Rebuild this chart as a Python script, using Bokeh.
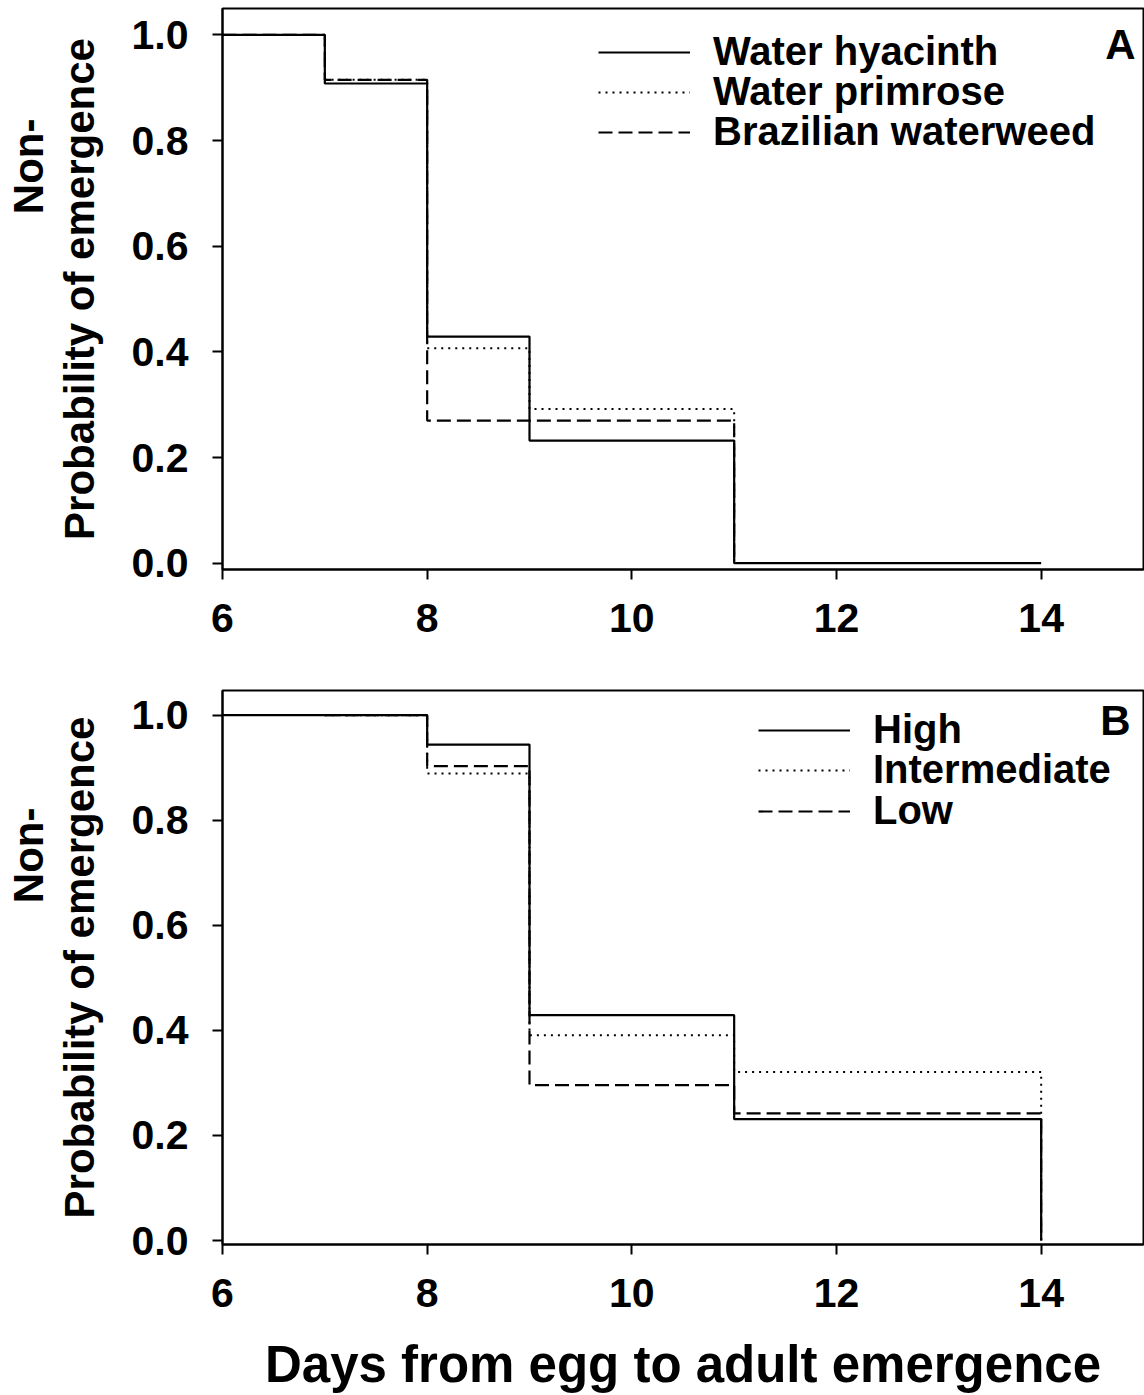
from bokeh.plotting import figure
from bokeh.layouts import column
from bokeh.models import Range1d, Legend, LegendItem, Label, Title
from bokeh.embed import file_html
from bokeh.resources import INLINE

# ---- Panel A: host plant ----
days_hyacinth = [6, 7, 8, 9, 11, 14]
surv_hyacinth = [1.0, 0.908, 0.429, 0.232, 0.0, 0.0]
days_primrose = [6, 7, 8, 9, 11]
surv_primrose = [1.0, 0.915, 0.407, 0.292, 0.0]
days_waterweed = [6, 7, 8, 11]
surv_waterweed = [1.0, 0.915, 0.270, 0.0]

# ---- Panel B: nutrient level ----
days_high = [6, 8, 9, 11, 14]
surv_high = [1.0, 0.944, 0.429, 0.231, 0.0]
days_inter = [7, 8, 9, 11, 14]
surv_inter = [1.0, 0.889, 0.391, 0.321, 0.0]
days_low = [7, 8, 9, 11, 14]
surv_low = [1.0, 0.903, 0.296, 0.242, 0.0]

x_ticks = [6, 8, 10, 12, 14]
y_ticks = [0.0, 0.2, 0.4, 0.6, 0.8, 1.0]

FONT = "Liberation Sans"
X0, X1 = 6, 15
LEFT = 222
FRAME_W = 921
ROW_HALF = 22  # half the height of one legend row

STYLES = [
    dict(line_dash="solid", line_width=2.2),
    dict(line_dash="2 5", line_width=2.0),
    dict(line_dash="14 6", line_width=2.2),
]


def make_panel(height, top, frame_h, yr, series, names, letter, legend_x,
               legend_rows, non_offset, show_xlabel):
    Y0, Y1 = yr
    p = figure(width=LEFT + FRAME_W + 1, height=height,
               x_range=Range1d(X0, X1), y_range=Range1d(Y0, Y1),
               output_backend="svg", toolbar_location=None,
               min_border_left=LEFT, min_border_right=1,
               min_border_top=top, min_border_bottom=height - top - frame_h)
    p.xgrid.visible = False
    p.ygrid.visible = False
    p.background_fill_color = "white"
    p.border_fill_color = "white"
    p.outline_line_color = "black"
    p.outline_line_width = 2

    for ax in (p.xaxis, p.yaxis):
        ax.axis_line_width = 2
        ax.axis_line_color = "black"
        ax.major_tick_line_width = 2
        ax.major_tick_line_color = "black"
        ax.major_tick_out = 10
        ax.major_tick_in = 0
        ax.minor_tick_line_color = None
        ax.major_label_text_font = FONT
        ax.major_label_text_font_style = "bold"
        ax.major_label_text_font_size = "41px"
        ax.major_label_text_color = "black"
    p.xaxis.ticker = x_ticks
    p.yaxis.ticker = y_ticks
    p.xaxis.major_label_standoff = 24
    p.yaxis.major_label_standoff = 24
    p.yaxis.major_label_overrides = {v: f"{v:.1f}" for v in y_ticks}

    # two-line vertical label: "Probability of emergence" on the axis,
    # "Non-" as a left-side title further out
    p.yaxis.axis_label = "Probability of emergence"
    p.yaxis.axis_label_text_font = FONT
    p.yaxis.axis_label_text_font_style = "bold"
    p.yaxis.axis_label_text_font_size = "42px"
    p.yaxis.axis_label_text_color = "black"
    p.yaxis.axis_label_standoff = 26
    p.add_layout(Title(text="Non-", align="right", offset=non_offset,
                       text_font=FONT, text_font_style="bold",
                       text_font_size="42px", text_color="black",
                       standoff=2), "left")

    if show_xlabel:
        p.xaxis.axis_label = "Days from egg to adult emergence"
        p.xaxis.axis_label_text_font = FONT
        p.xaxis.axis_label_text_font_style = "bold"
        p.xaxis.axis_label_text_font_size = "51px"
        p.xaxis.axis_label_text_color = "black"
        p.xaxis.axis_label_standoff = 26

    frame_bottom = top + frame_h
    for (xs, ys), name, st, row in zip(series, names, STYLES, legend_rows):
        r = p.step(xs, ys, mode="after", line_color="black", **st)
        leg = Legend(items=[LegendItem(label=name, renderers=[r])],
                     location=(legend_x, frame_bottom - row - ROW_HALF),
                     glyph_width=92, glyph_height=40, label_height=40,
                     label_standoff=23, spacing=0, padding=0, margin=0,
                     border_line_alpha=0, background_fill_alpha=0,
                     label_text_font=FONT, label_text_font_style="bold",
                     label_text_font_size="40px", label_text_color="black")
        p.add_layout(leg)

    px_per_x = FRAME_W / (X1 - X0)
    px_per_y = frame_h / (Y1 - Y0)

    def dx(px):
        return X0 + (px - LEFT) / px_per_x

    def dy(py):
        return Y1 - (py - top) / px_per_y

    p.add_layout(Label(x=dx(letter[1]), y=dy(letter[2]), text=letter[0],
                       text_font=FONT, text_font_style="bold",
                       text_font_size="42px", text_align="center",
                       text_baseline="middle", text_color="black"))
    return p


pA = make_panel(
    height=680, top=8, frame_h=561, yr=(-0.012, 1.05),
    series=[(days_hyacinth, surv_hyacinth), (days_primrose, surv_primrose),
            (days_waterweed, surv_waterweed)],
    names=["Water hyacinth", "Water primrose", "Brazilian waterweed"],
    letter=("A", 1120, 44), legend_x=376, legend_rows=[52, 92, 132],
    non_offset=110, show_xlabel=False)

pB = make_panel(
    height=715, top=10, frame_h=559, yr=(-0.0075, 1.047),
    series=[(days_high, surv_high), (days_inter, surv_inter),
            (days_low, surv_low)],
    names=["High", "Intermediate", "Low"],
    letter=("B", 1115, 40), legend_x=536, legend_rows=[55, 95, 136],
    non_offset=117, show_xlabel=True)

layout = column(pA, pB, spacing=0)
open("out.html", "w").write(file_html(layout, INLINE))
